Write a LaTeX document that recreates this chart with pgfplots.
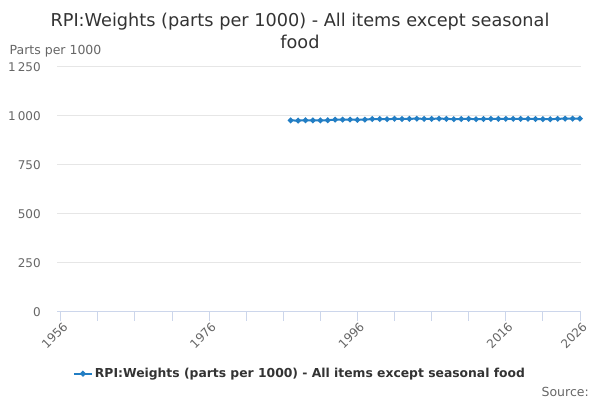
\documentclass[border=0pt]{standalone}
\usepackage{fontspec}
\setmainfont{DejaVu Sans}
\usepackage{pgfplots}
\pgfplotsset{compat=1.18}
\definecolor{serblue}{RGB}{34,126,196}
\definecolor{gridgray}{HTML}{E6E6E6}
\definecolor{axisblue}{HTML}{CCD6EB}
\definecolor{ticktext}{HTML}{666666}
\definecolor{titletext}{HTML}{333333}
\begin{document}
\begin{tikzpicture}[x=1pt,y=1pt]
  \path[use as bounding box] (0,0) rectangle (600,400);
  \node[align=center, text=titletext, font=\fontsize{17.7}{22}\selectfont] at (300,369)
    {RPI:Weights (parts per 1000) - All items except seasonal\\food};
  \node[anchor=west, text=ticktext, font=\fontsize{12.5}{14}\selectfont, inner sep=0pt] at (9.5,349) {Parts per 1000};
  \node[anchor=east, text=ticktext, font=\fontsize{12.5}{14}\selectfont, inner sep=0pt] at (589,8) {Source:};
  \begin{axis}[
    at={(57.3pt,88.3pt)}, anchor=south west,
    scale only axis, width=523.4pt, height=245pt,
    xmin=1955.54, xmax=2026.1,
    ymin=0, ymax=1250,
    axis line style={draw=none},
    axis x line*=bottom,
    x axis line style={draw=axisblue, line width=0.8pt},
    y axis line style={draw=none},
    ytick={0,250,500,750,1000,1250},
    ymajorgrids=true,
    grid style={draw=gridgray, line width=0.8pt},
    xtick={1956,1976,1996,2016,2026},
    minor xtick={1961,1966,1971,1981,1986,1991,2001,2006,2011,2021},
    xtick style={draw=axisblue, line width=0.8pt},
    minor x tick style={draw=axisblue, line width=0.8pt},
    ytick style={draw=none},
    tick align=outside,
    major tick length=9pt,
    minor tick length=9pt,
    /pgf/number format/assume math mode=true,
    /pgf/number format/1000 sep={\,},
    xticklabel={\pgfmathprintnumber[1000 sep={}]{\tick}},
    yticklabel style={font=\fontsize{12}{14}\selectfont, text=ticktext, anchor=east, xshift=-4pt},
    xticklabel style={font=\fontsize{12}{14}\selectfont, text=ticktext, rotate=45, anchor=north east, xshift=4pt, yshift=2pt},
    legend style={at={(0.4637,-0.253)}, anchor=center, draw=none, fill=none,
      font=\bfseries\fontsize{12.35}{14}\selectfont, text=titletext},
    legend image code/.code={\draw[serblue, line width=2pt] (0pt,0pt) -- (18pt,0pt);
      \fill[serblue] (9pt,0pt) circle (1.8pt);},
  ]
    \addplot[serblue, line width=2pt, mark=*, mark size=1.7pt] coordinates {
      (1987,976) (1988,975) (1989,977) (1990,976) (1991,976) (1992,977)
      (1993,980) (1994,980) (1995,980) (1996,979) (1997,980) (1998,983)
      (1999,983) (2000,982) (2001,984) (2002,983) (2003,984) (2004,985)
      (2005,984) (2006,984) (2007,985) (2008,984) (2009,982) (2010,983)
      (2011,984) (2012,982) (2013,983) (2014,984) (2015,984) (2016,984)
      (2017,984) (2018,984) (2019,984) (2020,983) (2021,982) (2022,982)
      (2023,984) (2024,985) (2025,985) (2026,985)
    };
    \addlegendentry{RPI:Weights (parts per 1000) - All items except seasonal food}
  \end{axis}
\end{tikzpicture}
\end{document}
